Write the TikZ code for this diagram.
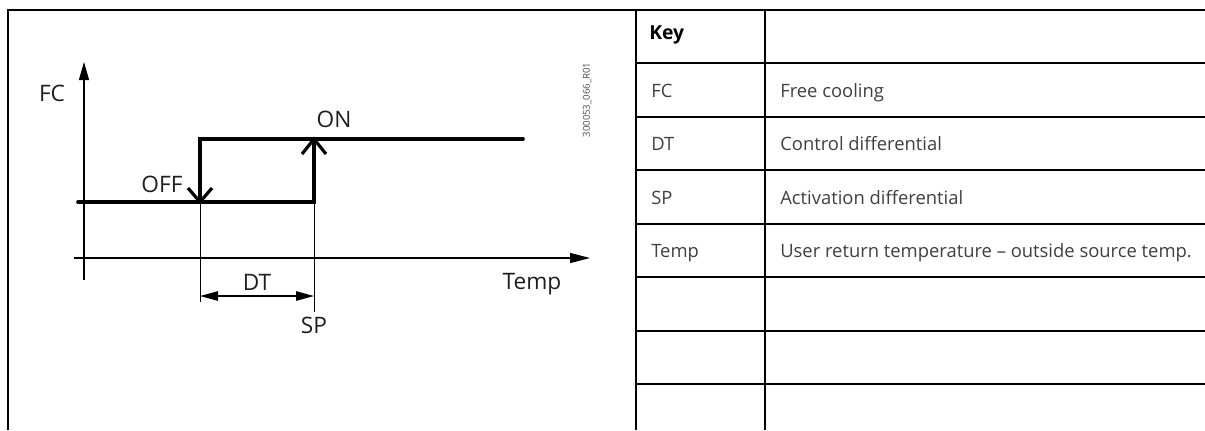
\documentclass[tikz,border=0pt]{standalone}
\usepackage{fontspec}
\setmainfont{Open Sans}
\usetikzlibrary{arrows.meta}
\begin{document}
\begin{tikzpicture}[x=0.75pt,y=-0.75pt,
  frame/.style={line width=1.5pt},
  stepline/.style={line width=2.7pt,line cap=round,line join=miter},
  chevron/.style={line width=2.4pt,line join=miter},
  axis/.style={line width=1pt},
  guide/.style={line width=0.6pt},
  lbl/.style={font=\fontsize{17}{20}\selectfont,text=black!88,inner sep=0pt},
  cell/.style={font=\fontsize{13.8}{16}\selectfont,text=black!75,inner sep=0pt,anchor=base west},
  keycell/.style={font=\fontsize{14.5}{17}\selectfont\bfseries,text=black,inner sep=0pt,anchor=base west},
]
\useasboundingbox (0,0) rectangle (1205,430);
\fill[white] (0,0) rectangle (1205,430);

% ---- frame and table ----
\draw[frame] (7.5,430) -- (7.5,10) -- (1205,10);
\draw[frame] (636,10) -- (636,430);
\draw[frame] (765,10) -- (765,430);
\foreach \yy in {63,117,170,224,277,331,384}
  \draw[frame] (636,\yy) -- (1205,\yy);

\node[keycell] (k0) at (649,39) {Key};
\node[cell] (k1) at (651,97) {FC};
\node[cell] (v1) at (780,97) {Free cooling};
\node[cell] (k2) at (651,150.5) {DT};
\node[cell] (v2) at (780,150.5) {Control differential};
\node[cell] (k3) at (651,204) {SP};
\node[cell] (v3) at (780,204) {Activation differential};
\node[cell] (k4) at (651,257.5) {Temp};
\node[cell] (v4) at (780,257.5) {User return temperature – outside source temp.};

% ---- chart ----
\coordinate (yb) at (84,280);
\coordinate (yt) at (84,62);
\coordinate (xl) at (74,258);
\coordinate (xr) at (590,258);
\draw[axis,-{Triangle[length=13.5pt,width=7.5pt]}] (yb) -- (yt);
\draw[axis,-{Triangle[length=15pt,width=7.5pt]}] (xl) -- (xr);

\coordinate (lowstart) at (78,202);
\coordinate (offpt) at (200,202);
\coordinate (offtop) at (200,139);
\coordinate (onpt) at (314,139);
\coordinate (onbot) at (314,202);
\coordinate (highend) at (523,139);
\draw[stepline] (lowstart) -- (onbot) -- (onpt);
\draw[stepline] (offpt) -- (offtop) -- (highend);
\draw[chevron] (offpt) ++(-12,-14) -- (offpt) -- ++(12,-14);
\draw[chevron] (onpt) ++(-12,15) -- (onpt) -- ++(12,15);

\coordinate (dtl) at (200,302);
\coordinate (spl) at (314,312);
\draw[guide] (offpt) -- (dtl);
\draw[guide] (onbot) -- (spl);
\coordinate (dta) at (200,296);
\coordinate (dtb) at (314,296);
\draw[line width=1.2pt,{Triangle[length=13.5pt,width=7pt]}-{Triangle[length=13.5pt,width=7pt]}] (dta) -- (dtb);

\node[lbl] (fc) at (52,93) {FC};
\node[lbl] (off) at (162,184) {OFF};
\node[lbl] (on) at (334,119) {ON};
\node[lbl] (dt) at (257,282) {DT};
\node[lbl] (sp) at (314,325) {SP};
\node[lbl] (temp) at (532,284) {Temp};
\node[font=\fontsize{7.2}{8}\selectfont,text=black!70,rotate=90,inner sep=0pt] (code) at (587,100) {300053\_066\_R01};
\end{tikzpicture}
\end{document}
